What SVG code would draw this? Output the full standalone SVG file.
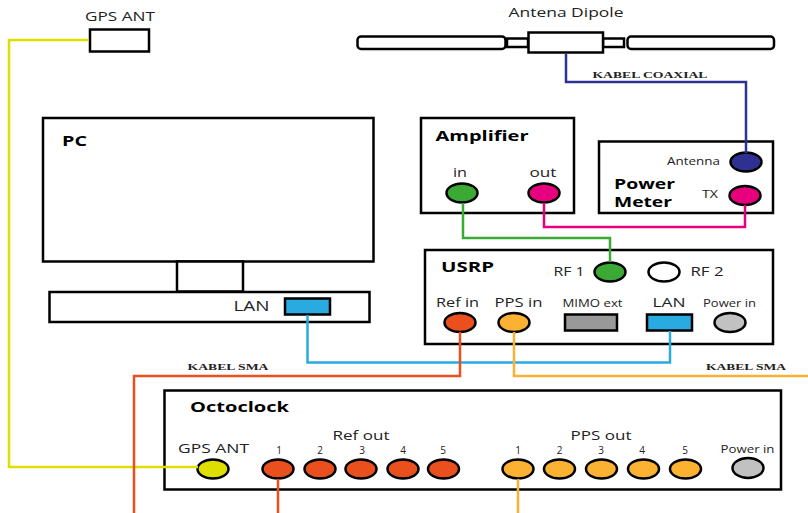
<svg xmlns="http://www.w3.org/2000/svg" width="808" height="513" viewBox="0 0 808 513">
<style>
.b{fill:#fff;stroke:#000;stroke-width:2.5}
.p{stroke:#000;stroke-width:2.5}
.w{fill:none;stroke-width:2.5}
text{font-family:"Open Sans","Noto Sans","Liberation Sans",sans-serif;fill:#222}
.t{font-weight:700;font-size:15px;fill:#000}
.t2{font-weight:700;font-size:14px;fill:#000}
.k{font-family:"Liberation Serif",serif;font-weight:700;font-size:9px;text-anchor:middle}
.m{text-anchor:middle}
.s11{font-size:11px}.s12{font-size:12px}.s13{font-size:13px}.s10{font-size:10px}
.yl{fill:#dede00}.rd{fill:#ea501d}.or{fill:#fbb131}.gy{fill:#c1c1c1}.gn{fill:#3aaa35}.pk{fill:#e6007e}.nv{fill:#2e3192}.lb{fill:#29abe2}
</style>
<rect width="808" height="513" fill="#fff"/>
<g id="gps-antenna">
<rect class="b" x="90" y="29.500" width="59" height="22"/>
<text class="m s12" x="120" y="21" textLength="70" lengthAdjust="spacingAndGlyphs">GPS ANT</text>
</g>
<g id="dipole">
<rect class="b" x="357.500" y="36.500" width="148" height="12.500" rx="3.500"/>
<rect class="b" x="627.500" y="36.500" width="146.500" height="12.500" rx="3.500"/>
<rect class="b" x="507" y="38.500" width="21" height="8.500"/>
<rect class="b" x="603" y="38.500" width="21" height="8.500"/>
<rect class="b" x="528.500" y="32.500" width="74.500" height="20"/>
<text class="m s13" x="566" y="17" textLength="115" lengthAdjust="spacingAndGlyphs">Antena Dipole</text>
</g>
<g id="pc">
<rect class="b" x="43" y="118" width="330.500" height="143.500"/>
<rect class="b" x="177" y="261.500" width="66" height="30"/>
<rect class="b" x="49.500" y="292" width="320" height="30"/>
<rect class="p lb" x="285" y="298.500" width="45" height="16"/>
<text class="t" x="62" y="146" textLength="25" lengthAdjust="spacingAndGlyphs">PC</text>
<text class="m" font-size="14" x="251.500" y="310.500" textLength="36" lengthAdjust="spacingAndGlyphs">LAN</text>
</g>
<g id="amplifier">
<rect class="b" x="421" y="118" width="153" height="95"/>
<text class="t" x="435.500" y="141" textLength="93" lengthAdjust="spacingAndGlyphs">Amplifier</text>
<text class="m s12" x="460" y="177" textLength="14" lengthAdjust="spacingAndGlyphs">in</text>
<text class="m s12" x="543" y="177" textLength="27" lengthAdjust="spacingAndGlyphs">out</text>
<ellipse class="p gn" cx="462" cy="193" rx="15.500" ry="9.500"/>
<ellipse class="p pk" cx="544" cy="193" rx="15.500" ry="9.500"/>
</g>
<g id="power-meter">
<rect class="b" x="599" y="141.500" width="174" height="71.500"/>
<text class="s10" x="667" y="165" textLength="53" lengthAdjust="spacingAndGlyphs">Antenna</text>
<text class="m s10" x="710" y="198" textLength="16" lengthAdjust="spacingAndGlyphs">TX</text>
<text class="t2" x="614" y="189" textLength="61" lengthAdjust="spacingAndGlyphs">Power</text>
<text class="t2" x="614" y="207" textLength="58" lengthAdjust="spacingAndGlyphs">Meter</text>
<ellipse class="p nv" cx="746" cy="162" rx="15.500" ry="9.500"/>
<ellipse class="p pk" cx="745" cy="195.500" rx="15.500" ry="9.500"/>
</g>
<g id="usrp">
<rect class="b" x="425" y="250" width="348" height="94"/>
<text class="t" x="441" y="272" textLength="53" lengthAdjust="spacingAndGlyphs">USRP</text>
<text class="s12" x="553.500" y="275.500" textLength="31" lengthAdjust="spacingAndGlyphs">RF 1</text>
<text class="s12" x="690.500" y="275.500" textLength="33" lengthAdjust="spacingAndGlyphs">RF 2</text>
<ellipse class="p gn" cx="610" cy="272" rx="15.500" ry="9.500"/>
<ellipse class="b" cx="664" cy="272" rx="15.500" ry="9.500"/>
<text class="m s12" x="457.500" y="307" textLength="43" lengthAdjust="spacingAndGlyphs">Ref in</text>
<text class="m s12" x="518.500" y="307" textLength="48" lengthAdjust="spacingAndGlyphs">PPS in</text>
<text class="m s10" x="592.500" y="307" textLength="60" lengthAdjust="spacingAndGlyphs">MIMO ext</text>
<text class="m s12" x="669" y="307" textLength="33" lengthAdjust="spacingAndGlyphs">LAN</text>
<text class="m s10" x="729.500" y="307" textLength="53" lengthAdjust="spacingAndGlyphs">Power in</text>
<ellipse class="p rd" cx="460" cy="322.500" rx="15.500" ry="9.500"/>
<ellipse class="p or" cx="514" cy="322.500" rx="15.500" ry="9.500"/>
<rect class="p" fill="#999" x="565" y="314.500" width="52" height="16"/>
<rect class="p lb" x="647" y="314.500" width="45" height="16"/>
<ellipse class="p gy" cx="730" cy="322.500" rx="15.500" ry="9.500"/>
</g>
<g id="octoclock">
<rect class="b" x="164.500" y="390.500" width="616.500" height="99"/>
<text class="t" x="190" y="412" textLength="99" lengthAdjust="spacingAndGlyphs">Octoclock</text>
<text class="m s12" x="213.500" y="453" textLength="71" lengthAdjust="spacingAndGlyphs">GPS ANT</text>
<text class="m s12" x="361" y="440" textLength="57" lengthAdjust="spacingAndGlyphs">Ref out</text>
<text class="m s12" x="601" y="440" textLength="61" lengthAdjust="spacingAndGlyphs">PPS out</text>
<text class="m s10" x="747.500" y="453" textLength="54" lengthAdjust="spacingAndGlyphs">Power in</text>
<g class="s10" text-anchor="middle">
<text x="279" y="454">1</text><text x="320" y="454">2</text><text x="362" y="454">3</text><text x="403" y="454">4</text><text x="443" y="454">5</text>
<text x="518" y="454">1</text><text x="559.500" y="454">2</text><text x="601" y="454">3</text><text x="642" y="454">4</text><text x="685" y="454">5</text>
</g>
<ellipse class="p yl" cx="213" cy="469" rx="15.500" ry="9.500"/>
<ellipse class="p rd" cx="278" cy="469" rx="15.500" ry="9.500"/>
<ellipse class="p rd" cx="320" cy="469" rx="15.500" ry="9.500"/>
<ellipse class="p rd" cx="361" cy="469" rx="15.500" ry="9.500"/>
<ellipse class="p rd" cx="403" cy="469" rx="15.500" ry="9.500"/>
<ellipse class="p rd" cx="443.500" cy="469" rx="15.500" ry="9.500"/>
<ellipse class="p or" cx="518" cy="469" rx="15.500" ry="9.500"/>
<ellipse class="p or" cx="559.500" cy="469" rx="15.500" ry="9.500"/>
<ellipse class="p or" cx="601.500" cy="469" rx="15.500" ry="9.500"/>
<ellipse class="p or" cx="643.500" cy="469" rx="15.500" ry="9.500"/>
<ellipse class="p or" cx="685.500" cy="469" rx="15.500" ry="9.500"/>
<ellipse class="p gy" cx="748" cy="468" rx="15.500" ry="10"/>
</g>
<g id="connectors">
<path class="w" stroke="#dede00" d="M89 40H9V467H198"/>
<path class="w" stroke="#2e3192" d="M566 54V82H746V153"/>
<path class="w" stroke="#e6007e" d="M544 203V227H745V205"/>
<path class="w" stroke="#3aaa35" d="M463 203V238H610V262"/>
<path class="w" stroke="#29abe2" d="M307.500 315V362.500H670V331"/>
<path class="w" stroke="#ea501d" d="M460 332V376H134V513"/>
<path class="w" stroke="#fbb131" d="M514 332V376H808"/>
<path class="w" stroke="#ea501d" d="M278 479V513"/>
<path class="w" stroke="#fbb131" d="M518 479V513"/>
</g>
<g id="labels">
<text class="k" x="650" y="78" textLength="115" lengthAdjust="spacingAndGlyphs">KABEL COAXIAL</text>
<text class="k" x="228" y="369.500" textLength="81" lengthAdjust="spacingAndGlyphs">KABEL SMA</text>
<text class="k" x="746" y="369.500" textLength="80" lengthAdjust="spacingAndGlyphs">KABEL SMA</text>
</g>
</svg>
